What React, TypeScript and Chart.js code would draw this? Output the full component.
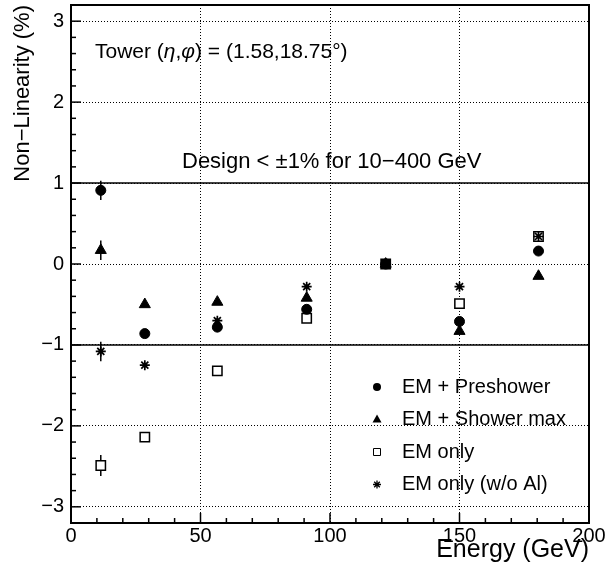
import { useEffect, useRef } from 'react';
import { Chart, registerables } from 'chart.js';

Chart.register(...registerables);

// ---- data ----
const energies = [11.5, 28.5, 56.5, 91, 121.5, 150, 180.5];
const emPreshower = [0.91, -0.86, -0.78, -0.56, 0, -0.71, 0.16];
const emShowerMax = [0.17, -0.5, -0.47, -0.42, 0, -0.83, -0.15];
const emOnly = [-2.49, -2.14, -1.32, -0.67, 0, -0.49, 0.34];
const emOnlyNoAl = [-1.08, -1.25, -0.7, -0.28, 0, -0.28, 0.34];

const errPreshower = [0.12, 0.03, 0.03, 0.03, 0, 0.03, 0.03];
const errShowerMax = [0.12, 0.03, 0.03, 0.03, 0, 0.03, 0.03];
const errEmOnly = [0.13, 0.05, 0.03, 0.03, 0, 0.03, 0.03];
const errEmOnlyNoAl = [0.12, 0.03, 0.03, 0.03, 0, 0.03, 0.03];

const seriesLabels = ['EM + Preshower', 'EM + Shower max', 'EM only', 'EM only (w/o Al)'];
const xTitle = 'Energy (GeV)';
const yTitle = 'Non\u2212Linearity (%)';
const designLimits = [1, -1];
const designText = 'Design < \u00b11% for 10\u2212400 GeV';
const towerParts: [string, boolean][] = [
  ['Tower (', false],
  ['\u03b7', true],
  [',', false],
  ['\u03c6', true],
  [') = (1.58,18.75\u00b0)', false],
];

const FONT = '"Liberation Sans", Arial, Helvetica, sans-serif';

const toPts = (ys: number[]) => ys.map((y, i) => ({ x: energies[i], y }));

const errorBarPlugin = {
  id: 'errorBars',
  beforeDatasetsDraw(chart: any) {
    const { ctx, scales } = chart;
    const ys = scales.y;
    const xs = scales.x;
    const area = chart.chartArea;
    ctx.save();
    ctx.strokeStyle = '#000';
    ctx.lineWidth = 1.5;
    designLimits.forEach((v) => {
      const py = ys.getPixelForValue(v);
      ctx.beginPath();
      ctx.moveTo(area.left, py);
      ctx.lineTo(area.right, py);
      ctx.stroke();
    });
    for (let k = -32; k <= 32; k += 2) {
      const v = k / 10;
      const major = k % 10 === 0;
      const py = ys.getPixelForValue(v);
      ctx.beginPath();
      ctx.moveTo(area.left, py);
      ctx.lineTo(area.left + (major ? 10 : 5), py);
      ctx.stroke();
    }
    for (let v = 0; v <= 200; v += 10) {
      const major = v % 50 === 0;
      const px = xs.getPixelForValue(v);
      ctx.beginPath();
      ctx.moveTo(px, area.bottom);
      ctx.lineTo(px, area.bottom - (major ? 10 : 5));
      ctx.stroke();
    }
    chart.data.datasets.forEach((ds: any, i: number) => {
      const meta = chart.getDatasetMeta(i);
      meta.data.forEach((pt: any, j: number) => {
        const e = ds.errors[j];
        if (!e) return;
        const v = ds.data[j].y;
        ctx.beginPath();
        ctx.moveTo(pt.x, ys.getPixelForValue(v - e));
        ctx.lineTo(pt.x, ys.getPixelForValue(v + e));
        ctx.stroke();
      });
    });
    ctx.restore();
  },
};

function drawMarker(ctx: CanvasRenderingContext2D, kind: number, x: number, y: number) {
  ctx.save();
  ctx.fillStyle = '#000';
  ctx.strokeStyle = '#000';
  ctx.lineWidth = 1;
  ctx.beginPath();
  if (kind === 0) {
    ctx.arc(x, y, 4, 0, Math.PI * 2);
    ctx.fill();
  } else if (kind === 1) {
    ctx.moveTo(x, y - 5);
    ctx.lineTo(x + 4.5, y + 3);
    ctx.lineTo(x - 4.5, y + 3);
    ctx.closePath();
    ctx.fill();
  } else if (kind === 2) {
    ctx.rect(x - 3.5, y - 3.5, 7, 7);
    ctx.stroke();
  } else {
    const r = 4;
    ctx.lineWidth = 1.3;
    for (let a = 0; a < 4; a++) {
      const t = (a * Math.PI) / 4;
      ctx.moveTo(x - r * Math.cos(t), y - r * Math.sin(t));
      ctx.lineTo(x + r * Math.cos(t), y + r * Math.sin(t));
    }
    ctx.stroke();
  }
  ctx.restore();
}

const overlayPlugin = {
  id: 'overlay',
  afterDatasetsDraw(chart: any) {
    const { ctx } = chart;
    const area = chart.chartArea;
    ctx.save();
    ctx.strokeStyle = '#000';
    ctx.lineWidth = 2;
    ctx.strokeRect(area.left, area.top, area.right - area.left, area.bottom - area.top);

    ctx.fillStyle = '#000';
    ctx.textBaseline = 'alphabetic';
    ctx.textAlign = 'left';
    let tx = 95;
    towerParts.forEach(([s, it]) => {
      ctx.font = `${it ? 'italic ' : ''}21px ${FONT}`;
      ctx.fillText(s, tx, 58);
      tx += ctx.measureText(s).width;
    });
    ctx.font = `22px ${FONT}`;
    ctx.fillText(designText, 182, 168);

    ctx.font = `20px ${FONT}`;
    const rowY = [387, 419.5, 452, 484.5];
    seriesLabels.forEach((lab, i) => {
      drawMarker(ctx, i, 377, rowY[i]);
      ctx.textBaseline = 'middle';
      ctx.fillText(lab, 402, rowY[i]);
    });
    ctx.restore();
  },
};

export default function App() {
  const ref = useRef<HTMLCanvasElement>(null);
  useEffect(() => {
    const canvas = ref.current;
    if (!canvas) return;
    const minusFmt = (v: any) => (Number(v) < 0 ? '\u2212' + Math.abs(Number(v)) : String(v));
    const chart = new Chart(canvas, {
      type: 'scatter',
      data: {
        datasets: [
          { label: seriesLabels[0], data: toPts(emPreshower), errors: errPreshower, pointStyle: 'circle', pointRadius: 5, backgroundColor: '#000', borderColor: '#000', borderWidth: 1, order: 0 } as any,
          { label: seriesLabels[1], data: toPts(emShowerMax), errors: errShowerMax, pointStyle: 'triangle', pointRadius: 6.4, backgroundColor: '#000', borderColor: '#000', borderWidth: 1, order: 1 } as any,
          { label: seriesLabels[2], data: toPts(emOnly), errors: errEmOnly, pointStyle: 'rect', pointRadius: 6.6, backgroundColor: (c: any) => (c.raw && c.raw.y === 0 ? '#000' : '#fff'), borderColor: '#000', borderWidth: 1.5, order: 3 } as any,
          { label: seriesLabels[3], data: toPts(emOnlyNoAl), errors: errEmOnlyNoAl, pointStyle: 'star', pointRadius: 5, backgroundColor: '#000', borderColor: '#000', borderWidth: 1.7, order: 2 } as any,
        ],
      },
      options: {
        responsive: false,
        animation: false,
        devicePixelRatio: 1,
        layout: { autoPadding: false, padding: { top: 5, right: 19, left: 0, bottom: 0 } },
        plugins: { legend: { display: false }, tooltip: { enabled: false } },
        scales: {
          x: {
            type: 'linear', min: 0, max: 200,
            afterFit: (s: any) => { s.height = 52; s.paddingLeft = 0; s.paddingRight = 0; s.paddingTop = 0; s.paddingBottom = 0; },
            ticks: { stepSize: 50, padding: 1, maxRotation: 0, autoSkip: false, color: '#000', font: { family: FONT, size: 20 }, callback: minusFmt },
            grid: { drawTicks: false, color: '#000', lineWidth: 1 },
            border: { display: false, dash: [1, 2] },
            title: { display: true, text: xTitle, align: 'end', color: '#000', font: { family: FONT, size: 25 }, padding: { top: 0, bottom: 10 } },
          },
          y: {
            type: 'linear', min: -3.2, max: 3.2,
            afterFit: (s: any) => { s.width = 71; s.paddingLeft = 0; s.paddingRight = 0; s.paddingTop = 0; s.paddingBottom = 0; },
            ticks: { stepSize: 1, includeBounds: false, padding: 7, color: '#000', font: { family: FONT, size: 20 }, callback: minusFmt },
            grid: { drawTicks: false, color: '#000', lineWidth: 1 },
            border: { display: false, dash: [1, 2] },
            title: { display: true, text: yTitle, align: 'end', color: '#000', font: { family: FONT, size: 22 }, padding: { top: 10, bottom: 0 } },
          },
        },
      } as any,
      plugins: [errorBarPlugin, overlayPlugin],
    });
    return () => chart.destroy();
  }, []);

  return (
    <div style={{ position: 'absolute', left: 0, top: 0, width: 608, height: 575, background: '#fff' }}>
      <canvas ref={ref} width={608} height={575} style={{ display: 'block', width: 608, height: 575 }} />
    </div>
  );
}
